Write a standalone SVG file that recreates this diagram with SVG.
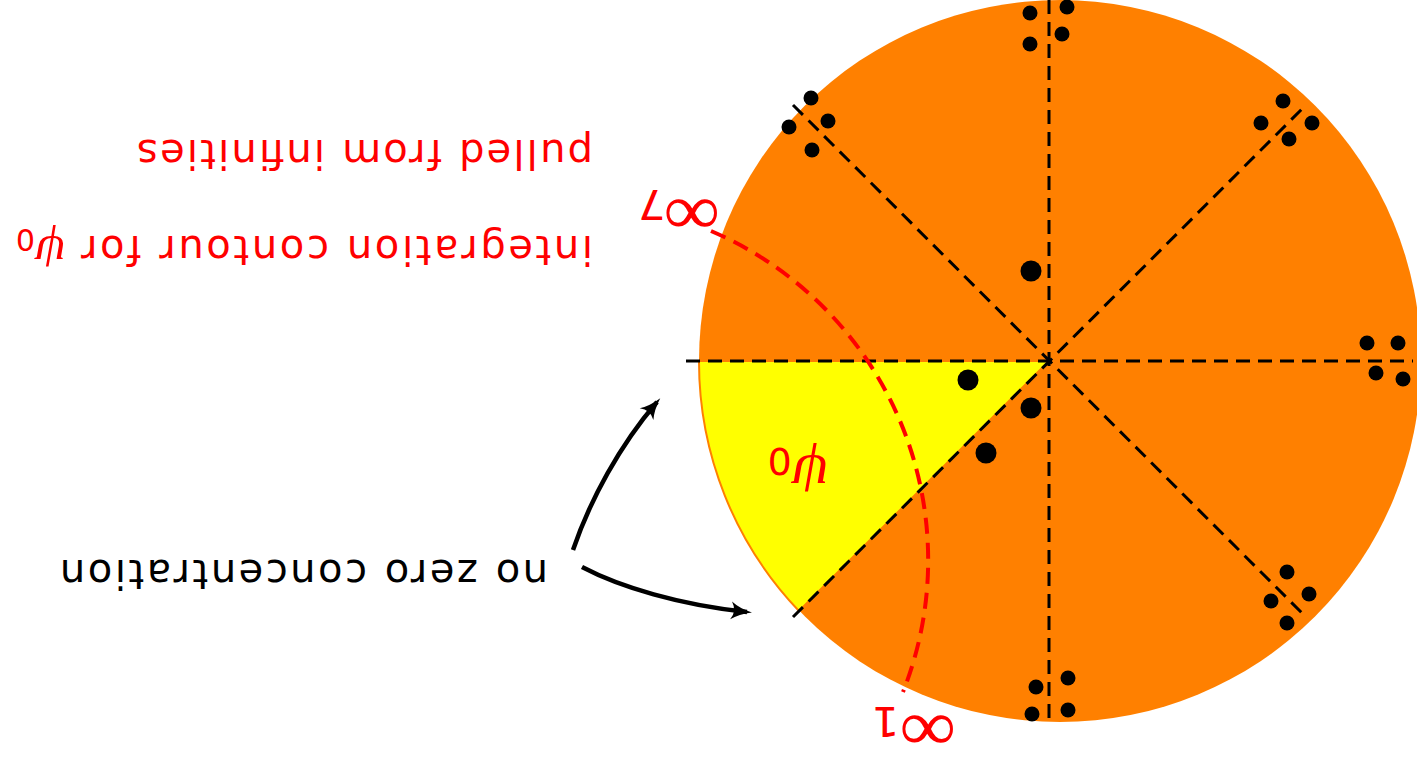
<svg xmlns="http://www.w3.org/2000/svg" width="1417" height="757" viewBox="0 0 1417 757">
<style>
.axis{stroke:#000;stroke-width:3;stroke-dasharray:14 8;fill:none}
.contour{stroke:#ff0000;stroke-width:4;stroke-dasharray:16 9;fill:none}
.dot{fill:#000}
.lbl{font-family:"DejaVu Sans","Liberation Sans",sans-serif;font-size:40px}
.red{fill:#ff0000}
.sub{font-family:"DejaVu Sans","Liberation Sans",sans-serif}
.inf{font-family:"Liberation Serif","DejaVu Serif",serif}
.psi{font-family:"Liberation Serif","DejaVu Serif",serif;font-style:italic}
.arrow{stroke:#000;stroke-width:4.5;fill:none;marker-end:url(#ah)}
</style>
<defs>
<marker id="ah" markerUnits="userSpaceOnUse" markerWidth="40" markerHeight="40" viewBox="-20 -20 40 40" refX="0" refY="0" orient="auto">
<path d="M5,0 Q-8,-3 -16,-9 Q-10,0 -16,9 Q-8,3 5,0 Z" fill="#000"/>
</marker>
</defs>
<rect width="1417" height="757" fill="#fff"/>
<g id="disk">
<circle cx="1060" cy="361" r="361" fill="#ff8000"/>
</g>
<g id="sector">
<path d="M1049,361 L699,361 A361,361 0 0 0 799,611 Z" fill="#ffff00" stroke="#ff8000" stroke-width="2"/>
</g>
<g id="axes">
<line class="axis" x1="686" y1="361" x2="1413" y2="361"/>
<line class="axis" x1="1049" y1="0" x2="1049" y2="723"/>
<line class="axis" x1="793" y1="617" x2="1306" y2="105"/>
<line class="axis" x1="793" y1="105" x2="1306" y2="617"/>
</g>
<g id="contour">
<path class="contour" d="M711,231 A358,358 0 0 1 903,692"/>
</g>
<g id="poles">
<circle class="dot" cx="1030" cy="13" r="7.5"/><circle class="dot" cx="1067" cy="7" r="7.5"/><circle class="dot" cx="1030" cy="44" r="7.5"/><circle class="dot" cx="1062" cy="34" r="7.5"/>
<circle class="dot" cx="1283" cy="101" r="7.5"/><circle class="dot" cx="1261" cy="123" r="7.5"/><circle class="dot" cx="1312" cy="123" r="7.5"/><circle class="dot" cx="1289" cy="139" r="7.5"/>
<circle class="dot" cx="1367" cy="343" r="7.5"/><circle class="dot" cx="1398" cy="343" r="7.5"/><circle class="dot" cx="1376" cy="373" r="7.5"/><circle class="dot" cx="1403" cy="379" r="7.5"/>
<circle class="dot" cx="1287" cy="572" r="7.5"/><circle class="dot" cx="1309" cy="594" r="7.5"/><circle class="dot" cx="1271" cy="601" r="7.5"/><circle class="dot" cx="1287" cy="623" r="7.5"/>
<circle class="dot" cx="1068" cy="678" r="7.5"/><circle class="dot" cx="1036" cy="687" r="7.5"/><circle class="dot" cx="1068" cy="710" r="7.5"/><circle class="dot" cx="1032" cy="714" r="7.5"/>
<circle class="dot" cx="811" cy="98" r="7.5"/><circle class="dot" cx="828" cy="121" r="7.5"/><circle class="dot" cx="789" cy="127" r="7.5"/><circle class="dot" cx="812" cy="150" r="7.5"/>
<circle class="dot" cx="1031" cy="271" r="10.5"/><circle class="dot" cx="968" cy="380" r="10.5"/><circle class="dot" cx="1031" cy="408" r="10.5"/><circle class="dot" cx="986" cy="453" r="10.5"/>
</g>
<g id="label-psi0">
<text class="red" x="829" y="456" transform="rotate(180 829 456)"><tspan class="psi" font-size="60">ψ</tspan><tspan class="sub" font-size="38" dy="8">0</tspan></text>
</g>
<g id="label-inf7" transform="translate(720,192) rotate(180)">
<text class="red" x="0" y="0" transform="scale(1.1,1)"><tspan class="inf" font-size="72">∞</tspan><tspan class="sub" font-size="40" dx="-2" dy="2">7</tspan></text>
</g>
<g id="label-inf1" transform="translate(956,708) rotate(180)">
<text class="red" x="0" y="0" transform="scale(1.1,1)"><tspan class="inf" font-size="72">∞</tspan><tspan class="sub" font-size="40" dx="0" dy="1">1</tspan></text>
</g>
<g id="label-contour">
<text class="lbl red" x="593" y="140" transform="rotate(180 593 140)" textLength="456" lengthAdjust="spacing">pulled from infinities</text>
<text class="lbl red" x="593" y="236" transform="rotate(180 593 236)" textLength="512" lengthAdjust="spacing">integration contour for</text>
<text class="red" x="66" y="236" transform="rotate(180 66 236)"><tspan class="psi" font-size="50">ψ</tspan><tspan class="sub" font-size="30" dy="7">0</tspan></text>
</g>
<g id="label-nozero">
<text class="lbl" x="548" y="560" transform="rotate(180 548 560)" textLength="488" lengthAdjust="spacing" fill="#000">no zero concentration</text>
</g>
<g id="connectors">
<path class="arrow" d="M573,550 C590,500 620,445 657,402"/>
<path class="arrow" d="M582,567 C620,587 680,605 747,612"/>
</g>
</svg>
